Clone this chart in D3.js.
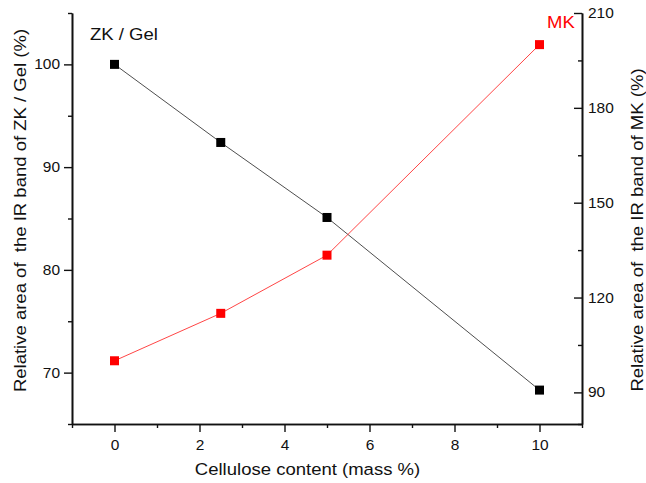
<!DOCTYPE html>
<html>
<head>
<meta charset="utf-8">
<script src="https://cdn.jsdelivr.net/npm/d3@7"></script>
<style>
  html, body { margin: 0; padding: 0; background: #fff; }
  svg text { font-family: "Liberation Sans", Arial, Helvetica, sans-serif; }
</style>
</head>
<body>
<svg id="chart" width="646" height="483"></svg>
<script>
// Cellulose content (mass %)
const cellulose = [0, 2.5, 5, 10];
// Relative IR band areas (%)
const zkGel = [100, 92.4, 85.1, 68.3];
const mk = [100, 115, 133.4, 200];

const xTicks = [0, 2, 4, 6, 8, 10];
const xMinor = [-1, 1, 3, 5, 7, 9, 11];
const leftTicks = [70, 80, 90, 100];
const leftMinor = [65, 75, 85, 95, 105];
const rightTicks = [90, 120, 150, 180, 210];
const rightMinor = [80, 105, 135, 165, 195];

const svg = d3.select("#chart");
const plotL = 72, plotR = 582, plotT = 13, plotB = 424;

const x = d3.scaleLinear().domain([-1, 11]).range([plotL, plotR]);
const yL = d3.scaleLinear().domain([65, 105]).range([plotB, plotT]);
const yR = d3.scaleLinear().domain([80, 210]).range([plotB, plotT]);

const axisColor = "#111";
const tickFont = 14.2;
const stretch = 1.09;   // slightly wide lettering

// Widen text along its baseline while keeping its anchor point in place
function widen(sel, k) {
  sel.each(function () {
    const t = d3.select(this);
    const x0 = +(t.attr("x") || 0);
    t.attr("x", x0 / k).attr("transform", `scale(${k},1)`);
  });
}

function styleAxis(g) {
  g.selectAll("path").attr("stroke", axisColor).attr("stroke-width", 1.6);
  g.selectAll("line").attr("stroke", axisColor).attr("stroke-width", 1.4);
  g.selectAll("text").attr("fill", "#111").style("font-size", tickFont + "px");
}

// Bottom axis
const gx = svg.append("g").attr("transform", `translate(0,${plotB})`)
  .call(d3.axisBottom(x).tickValues(xTicks).tickSize(8).tickSizeOuter(0).tickPadding(8).tickFormat(d3.format("d")));
svg.append("g").attr("transform", `translate(0,${plotB})`)
  .call(d3.axisBottom(x).tickValues(xMinor).tickSize(4).tickSizeOuter(0).tickFormat(""))
  .call(styleAxis);
styleAxis(gx);
widen(gx.selectAll(".tick text"), stretch);

// Left axis
const gl = svg.append("g").attr("transform", `translate(${plotL},0)`)
  .call(d3.axisLeft(yL).tickValues(leftTicks).tickSize(8).tickSizeOuter(0).tickPadding(4).tickFormat(d3.format("d")));
svg.append("g").attr("transform", `translate(${plotL},0)`)
  .call(d3.axisLeft(yL).tickValues(leftMinor).tickSize(4).tickSizeOuter(0).tickFormat(""))
  .call(styleAxis);
styleAxis(gl);
widen(gl.selectAll(".tick text"), stretch);

// Right axis: ticks point inward, labels outside
const gr = svg.append("g").attr("transform", `translate(${plotR},0)`)
  .call(d3.axisRight(yR).tickValues(rightTicks).tickSize(-8).tickSizeOuter(0).tickFormat(d3.format("d")));
gr.selectAll(".tick text").attr("x", 6);
svg.append("g").attr("transform", `translate(${plotR},0)`)
  .call(d3.axisRight(yR).tickValues(rightMinor).tickSize(-4).tickSizeOuter(0).tickFormat(""))
  .call(styleAxis);
styleAxis(gr);
widen(gr.selectAll(".tick text"), stretch);

// Series lines
const ptsZ = cellulose.map((c, i) => [x(c), yL(zkGel[i])]);
const ptsM = cellulose.map((c, i) => [x(c), yR(mk[i])]);

svg.append("path").attr("d", d3.line()(ptsZ))
  .attr("fill", "none").attr("stroke", "#3a3a3a").attr("stroke-width", 0.9);
svg.append("path").attr("d", d3.line()(ptsM))
  .attr("fill", "none").attr("stroke", "#ff3030").attr("stroke-width", 0.9);

const ms = 9;
svg.append("g").selectAll("rect").data(ptsZ).join("rect")
  .attr("x", d => d[0] - ms / 2).attr("y", d => d[1] - ms / 2)
  .attr("width", ms).attr("height", ms).attr("fill", "#000");
svg.append("g").selectAll("rect").data(ptsM).join("rect")
  .attr("x", d => d[0] - ms / 2).attr("y", d => d[1] - ms / 2)
  .attr("width", ms).attr("height", ms).attr("fill", "#ff0000");

// Series labels
svg.append("text").attr("transform", `translate(90,39.5) scale(${stretch},1)`)
  .text("ZK / Gel").attr("fill", "#111").style("font-size", "17px");
svg.append("text").attr("transform", `translate(547,28) scale(${stretch},1)`)
  .text("MK").attr("fill", "#ff0000").style("font-size", "17px");

// Axis titles
svg.append("text").attr("transform", `translate(307.5,475) scale(${stretch},1)`)
  .attr("text-anchor", "middle").style("font-size", "17px").attr("fill", "#111")
  .text("Cellulose content (mass %)");
svg.append("text")
  .attr("transform", `translate(25.5,210.5) rotate(-90) scale(${stretch},1)`)
  .attr("text-anchor", "middle").style("font-size", "17px").attr("fill", "#111")
  .attr("xml:space", "preserve")
  .text("Relative area of  the IR band of ZK / Gel (%)");
svg.append("text")
  .attr("transform", `translate(643,230) rotate(-90) scale(${stretch},1)`)
  .attr("text-anchor", "middle").style("font-size", "17px").attr("fill", "#111")
  .attr("xml:space", "preserve")
  .text("Relative area of  the IR band of MK (%)");
</script>
</body>
</html>
